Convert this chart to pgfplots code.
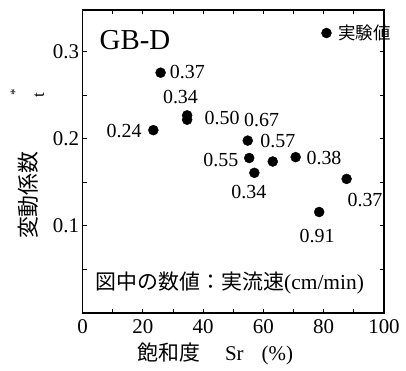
\documentclass[border=0pt]{standalone}
\usepackage{fontspec}
\setmainfont{Liberation Serif}
\newfontfamily\jp{Noto Sans CJK JP}
\usepackage{pgfplots}
\pgfplotsset{compat=1.18}
\begin{document}
\begin{tikzpicture}
\begin{axis}[
  name=ax,
  scale only axis,
  width=301.5bp, height=303bp,
  xmin=0, xmax=100, ymin=0, ymax=0.348,
  xtick={0,20,40,60,80,100},
  minor xtick={10,30,50,70,90},
  ytick={0.1,0.2,0.3},
  minor ytick={0.05,0.15,0.25},
  yticklabel style={/pgf/number format/fixed, /pgf/number format/precision=1},
  xticklabel style={yshift=-3bp},
  tick align=inside,
  major tick length=4.5bp, minor tick length=4.5bp,
  every tick/.style={black, line width=0.9bp},
  axis line style={line width=1.1bp},
  /pgf/number format/assume math mode=true,
  ticklabel style={font=\fontsize{21}{21}\selectfont},
  xlabel={{\jp 飽和度}\hspace{25bp}Sr\hspace{18bp}(\%)},
  xlabel style={font=\fontsize{21}{21}\selectfont, at={(axis description cs:0.44,0)}, anchor=north, yshift=-26bp},
  ylabel={\jp 変動係数},
  ylabel style={font=\fontsize{22}{22}\selectfont, at={(axis description cs:-0.181,0.389)}, anchor=center},
  clip=false,
  legend style={at={(rel axis cs:0.792,0.924)}, anchor=west, draw=none, fill=none,
    inner sep=0pt, column sep=5bp, font=\jp\fontsize{17.5}{17.5}\selectfont},
  legend cell align=left,
]
\addplot[only marks, mark=*, mark size=5bp, black] coordinates {
 (23.5,0.210) (25.9,0.276) (34.7,0.227) (34.7,0.222) (54.8,0.198)
 (55.3,0.178) (57.0,0.161) (63.1,0.174) (70.7,0.179) (78.5,0.116) (87.6,0.154)
};
\addlegendentry{実験値}
\begin{scope}[every node/.style={font=\fontsize{20}{20}\selectfont, inner sep=0pt}]
\node at (axis cs:17.4,0.314) {\fontsize{29}{29}\selectfont GB-D};
\node at (axis cs:34.8,0.277) {0.37};
\node at (axis cs:32.5,0.248) {0.34};
\node at (axis cs:46.3,0.224) {0.50};
\node at (axis cs:59.4,0.222) {0.67};
\node at (axis cs:13.8,0.209) {0.24};
\node at (axis cs:64.8,0.198) {0.57};
\node at (axis cs:45.9,0.176) {0.55};
\node at (axis cs:55.2,0.139) {0.34};
\node at (axis cs:80.1,0.178) {0.38};
\node at (axis cs:93.7,0.130) {0.37};
\node at (axis cs:77.8,0.0885) {0.91};
\node at (axis cs:48.9,0.0345) {{\jp\fontsize{21}{21}\selectfont 図中の数値：実流速}{\fontsize{21.5}{21.5}\selectfont(cm/min)}};
\node[rotate=90] at (axis cs:-14.4,0.2506) {\fontsize{17}{17}\selectfont t};
\node[rotate=90] at (axis cs:-22.4,0.254) {\fontsize{13}{13}\selectfont *};
\end{scope}
\end{axis}
\pgfresetboundingbox
\path[use as bounding box] ([shift={(-82.5bp,-58bp)}]ax.south west) rectangle ++(406bp,371bp);
\end{tikzpicture}
\end{document}
